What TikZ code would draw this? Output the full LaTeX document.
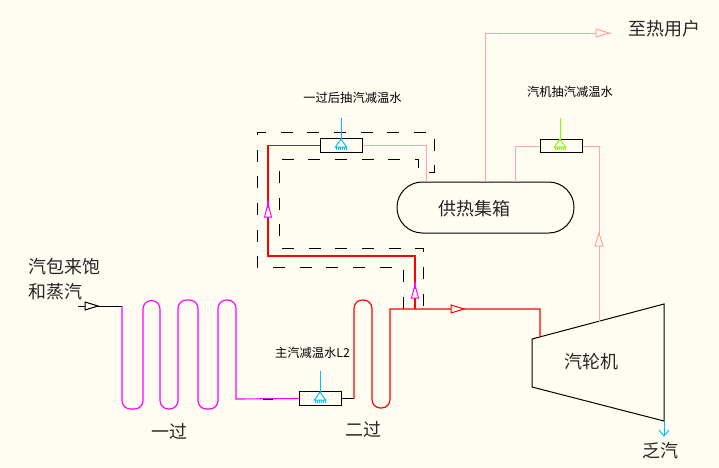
\documentclass[tikz,border=0pt]{standalone}
\usepackage{fontspec}
\setmainfont{Noto Sans CJK SC}
\definecolor{paper}{HTML}{FFFDF2}
\definecolor{steampink}{HTML}{FFA5A5}
\definecolor{spraycyan}{HTML}{00BFFF}
\definecolor{spraygreen}{HTML}{7FFF00}
\definecolor{coilmagenta}{HTML}{FF00FF}
\definecolor{steamred}{HTML}{FF0000}
\tikzset{
  biglabel/.style={font=\fontsize{13.5}{15}\selectfont, text=black!85, inner sep=0pt},
  smalllabel/.style={font=\fontsize{9.2}{11}\selectfont, text=black, inner sep=0pt},
  valvebox/.style={draw=black, line width=0.75pt, minimum width=31.5pt, minimum height=10pt, inner sep=0pt},
  spray/.pic={
    \draw (0,-21) -- (0,0);
    \draw (0,0) -- (-5.5,8) -- (5.5,8) -- cycle;
    \foreach \k in {-5,-3,...,5} \draw[line width=0.5pt] (\k,8) -- (\k,10.5);
  },
  flowtip/.pic={
    \draw[fill=paper] (0,-4) -- (13,0) -- (0,4) -- cycle;
  },
  risetip/.pic={
    \draw[fill=paper] (0,-3.5) -- (13,0) -- (0,3.5) -- cycle;
    \draw[line width=1.2pt] (9,0) -- (16,0);
  }
}
\begin{document}
\begin{tikzpicture}[x=0.75pt, y=-0.75pt, line width=0.75pt]
  \fill[paper] (0,0) rectangle (719,468);
  \useasboundingbox (0,0) rectangle (719,468);
  \coordinate (INa) at (78,306); \coordinate (INb) at (122,306);
  \coordinate (TBa) at (532,339); \coordinate (TBb) at (664,304);
  \coordinate (TBc) at (664,421); \coordinate (TBd) at (532,387);
  \coordinate (TBin) at (540,337); \coordinate (TBex) at (599,322);
  \coordinate (OUTb) at (664,436);
  \coordinate (MIX) at (390,309); \coordinate (TEE) at (415,309);
  \node[valvebox] (VM) at (320.5,398.5) {};
  \node[valvebox] (VA) at (341,145.5) {};
  \node[valvebox] (VB) at (561,146) {};
  \node[draw=black, line width=0.75pt, rounded corners=19pt, minimum width=132.75pt, minimum height=38.25pt,
        inner sep=0pt] (HDR) at (485.5,207.5) {};
  \coordinate (HDa) at (426,182); \coordinate (HDb) at (485,182); \coordinate (HDc) at (515,182);
  \coordinate (USR) at (611,33);
  \draw[black] (TBa) -- (TBb) -- (TBc) -- (TBd) -- cycle;
  \draw[black, dash pattern=on 9pt off 11pt] (403,309) -- (403,267) -- (257,267) -- (257,132) -- (434,132)
    -- (434,172) -- (418,172) -- (418,159) -- (279,159) -- (279,248) -- (423,248) -- (423,309);
  \draw[black] (INa) -- (INb);
  \draw[coilmagenta, line width=0.85pt] (INb) [rounded corners=6.3pt] -- (122,409) -- (143,409) -- (143,300.5) -- (160,300.5)
    -- (160,409) -- (178,409) -- (178,300) -- (198,300) -- (198,409) -- (218,409) -- (218,300) -- (236,300)
    [sharp corners] -- (236,399) -- (VM.west);
  \draw[black] (263,399) -- (273,399);
  \draw[black] (VM.east) -- (354,398.5);
  \draw[steamred, line width=0.85pt] (354,398.5) [rounded corners=6.3pt] -- (354,300) -- (372,300) -- (372,408) -- (390,408)
    [sharp corners] -- (MIX) -- (540,309) -- (TBin);
  \draw[steamred, line width=0.85pt] (TEE) -- (415,256) -- (268,256) |- (VA.west);
  \draw[steampink] (VA.east) -| (HDa);
  \draw[steampink] (HDb) |- (USR);
  \draw[steampink] (HDc) |- (VB.west);
  \draw[steampink] (VB.east) -| (TBex);
  \draw[spraycyan] (TBc) -- (OUTb);
  \draw[spraycyan] (659,430) -- (OUTb) -- (669,430);
  \pic[black] at (85,306) {flowtip};
  \pic[steamred] at (451,309) {flowtip};
  \pic[coilmagenta] at (268,217) [rotate=90] {risetip};
  \pic[coilmagenta] at (415,298) [rotate=90] {risetip};
  \pic[steampink] at (596,33) {flowtip};
  \pic[steampink] at (599,246) [rotate=90] {flowtip};
  \pic[spraycyan] at (320,392) {spray};
  \pic[spraycyan] at (341,139) {spray};
  \pic[spraygreen] at (560,139) {spray};
  \node[biglabel] (LBhdr) at (474,208.5) {供热集箱};
  \node[biglabel, anchor=west] (LBin) at (28,267) {汽包来饱};
  \node[biglabel, anchor=west] (LBinb) at (28,292) {和蒸汽};
  \node[biglabel] (LBone) at (169.5,431) {一过};
  \node[biglabel] (LBtwo) at (363,429) {二过};
  \node[biglabel] (LBtb) at (591,362) {汽轮机};
  \node[biglabel] (LBex) at (660,451) {乏汽};
  \node[biglabel] (LBusr) at (664.5,29) {至热用户};
  \node[smalllabel] (LBvm) at (312.5,352.5) {主汽减温水L2};
  \node[smalllabel] (LBva) at (352.5,97.5) {一过后抽汽减温水};
  \node[smalllabel] (LBvb) at (570,92) {汽机抽汽减温水};
\end{tikzpicture}
\end{document}
